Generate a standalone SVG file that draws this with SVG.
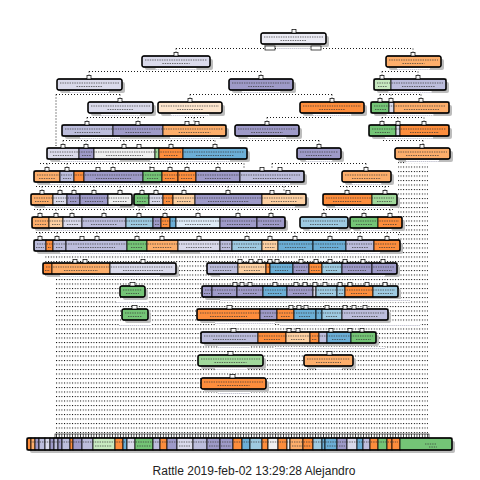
<svg xmlns="http://www.w3.org/2000/svg" width="480" height="480" viewBox="0 0 480 480">
<defs>
<pattern id="dots" width="2.67" height="4.5" patternUnits="userSpaceOnUse"><rect x="0" y="0" width="1" height="1" fill="#000"/></pattern>
<pattern id="tk" width="2.67" height="4" patternUnits="userSpaceOnUse"><rect x="0" y="0" width="0.7" height="4" fill="#000"/></pattern>
</defs>
<style>
.c1{fill:#fd8d3c}.c2{fill:#fdae6b}.c3{fill:#fdd0a2}.c4{fill:#fee6ce}
.c5{fill:#9e9ac8}.c6{fill:#bcbddc}.c7{fill:#dadaeb}.c8{fill:#ececf5}
.c9{fill:#6baed6}.c10{fill:#9ecae1}.c11{fill:#deebf7}
.c12{fill:#74c476}.c13{fill:#a1d99b}.c14{fill:#c7e9c0}.c15{fill:#f0f0f0}
rect.s{stroke:#000;stroke-width:.8}
.o{fill:none;stroke:#000;stroke-width:1.3}
.sh{fill:#bdbdbd}
.tx{fill:none;stroke:#333;stroke-width:.7;stroke-dasharray:1.4 1}
.t{fill:#fff;stroke:#000;stroke-width:.7}
.lb{fill:#fff}
.ll{fill:none;stroke:#b8b8c8;stroke-width:.8;stroke-dasharray:1.5 .6}
.d{fill:none;stroke:#000;stroke-width:.9;stroke-dasharray:1 2}
.cap{font-family:"Liberation Sans",Arial,sans-serif;font-size:12px;fill:#222}
</style>
<rect x="0" y="0" width="480" height="480" fill="#fff"/>
<g id="field">
<polygon points="398,160 428,160 428,435 55,435 55,278 45,278 45,253 398,253" fill="url(#dots)"/>
<rect x="55" y="434" width="374" height="4" fill="#fff" stroke="#000" stroke-width="0.6"/>
<rect x="55" y="434" width="374" height="4" fill="url(#tk)"/>
</g>
<g id="connectors">
<path class="d" d="M176,48.5H413M176,48.5V53M413,48.5V53"/>
<path class="d" d="M89,71.5H261M89,71.5V76M261,71.5V76M382,71.5H418M382,71.5V76M418,71.5V76"/>
<path class="d" d="M56,94.5H120M120,94.5V99M56,94.5V145M190,94.5H332M190,94.5V99M332,94.5V99M380,94.5H421M380,94.5V99M391,94.5V99M421,94.5V99"/>
<path class="d" d="M87,117.5H146M87,117.5V122M138,117.5V122M185,117.5H205M194,117.5V122M267,117.5H332M267,117.5V122M382,117.5H424M382,117.5V122M398,117.5V122M424,117.5V122"/>
<path class="d" d="M63,140.5H215M63,140.5V145M86,140.5V145M124,140.5V145M171,140.5V145M215,140.5V145M240,140.5H319M319,140.5V145M383,140.5H423M423,140.5V145"/>
<path class="d" d="M40,163.5H244M47,163.5V168M67,163.5V168M113,163.5V168M150,163.5V168M170,163.5V168M187,163.5V168M218,163.5V168M244,163.5V168M272,163.5H366M272,163.5V168M366,163.5V168"/>
<path class="d" d="M36,186.5H300M42,186.5V191M60,186.5V191M74,186.5V191M94,186.5V191M120,186.5V191M142,186.5V191M156,186.5V191M184,186.5V191M228,186.5V191M284,186.5V191M340,186.5H390M347,186.5V191M385,186.5V191"/>
<path class="d" d="M34,209.5H300M40,209.5V214M56,209.5V214M72,209.5V214M104,209.5V214M139,209.5V214M165,209.5V214M198,209.5V214M238,209.5V214M271,209.5V214M323,209.5H395M324,209.5V214M364,209.5V214M390,209.5V214"/>
<path class="d" d="M36,232.5H400M40,232.5V237M57,232.5V237M97,232.5V237M137,232.5V237M162,232.5V237M199,232.5V237M247,232.5V237M270,232.5V237M295,232.5V237M330,232.5V237M360,232.5V237M387,232.5V237"/>
<path class="d" d="M56,145V148"/>
</g>
<g id="n1">
<rect class="sh" x="264" y="36" width="65" height="11" rx="2"/>
<rect class="c8 s" x="261" y="33" width="65" height="11" rx="2"/>
<rect class="o" x="261" y="33" width="65" height="11" rx="2"/>
<path class="tx" d="M264,37H323M280.5,40.5H306.5"/>
<rect class="t" x="292" y="29.5" width="4" height="3.5"/>
<rect class="t" x="265" y="46" width="10" height="4"/>
<rect class="t" x="311" y="46" width="10" height="4"/>
<rect class="lb" x="277" y="47" width="33" height="3"/>
<path class="ll" d="M277,48.5H310"/>
</g>
<g id="n2">
<rect class="sh" x="145" y="59" width="68" height="11" rx="2"/>
<rect class="c7 s" x="142" y="56" width="68" height="11" rx="2"/>
<rect class="o" x="142" y="56" width="68" height="11" rx="2"/>
<path class="tx" d="M145,60H207M162.4,63.5H189.6"/>
<rect class="t" x="174" y="52.5" width="4" height="3.5"/>
<rect class="lb" x="155.6" y="68" width="40.8" height="3"/><path class="ll" d="M155.6,69.5H196.4"/>
</g>
<g id="n3">
<rect class="sh" x="389" y="59" width="55" height="11" rx="2"/>
<rect class="c2 s" x="386" y="56" width="55" height="11" rx="2"/>
<rect class="o" x="386" y="56" width="55" height="11" rx="2"/>
<path class="tx" d="M389,60H438M402.5,63.5H424.5"/>
<rect class="t" x="411" y="52.5" width="4" height="3.5"/>
<rect class="lb" x="397" y="68" width="33" height="3"/><path class="ll" d="M397,69.5H430"/>
</g>
<g id="n4">
<rect class="sh" x="60" y="82" width="65" height="11" rx="2"/>
<rect class="c7 s" x="57" y="79" width="65" height="11" rx="2"/>
<rect class="o" x="57" y="79" width="65" height="11" rx="2"/>
<path class="tx" d="M60,83H119M76.5,86.5H102.5"/>
<rect class="t" x="87" y="75.5" width="4" height="3.5"/>
<rect class="lb" x="70" y="91" width="39" height="3"/><path class="ll" d="M70,92.5H109"/>
</g>
<g id="n5">
<rect class="sh" x="232" y="82" width="64" height="11" rx="2"/>
<rect class="c5 s" x="229" y="79" width="64" height="11" rx="2"/>
<rect class="o" x="229" y="79" width="64" height="11" rx="2"/>
<path class="tx" d="M232,83H290M248.2,86.5H273.8"/>
<rect class="t" x="259" y="75.5" width="4" height="3.5"/>
<rect class="lb" x="241.8" y="91" width="38.4" height="3"/><path class="ll" d="M241.8,92.5H280.2"/>
</g>
<g id="n6">
<rect class="sh" x="377" y="82" width="72" height="11" rx="2"/>
<rect class="c14 s" x="374" y="79" width="17" height="11"/>
<rect class="c6 s" x="391" y="79" width="55" height="11"/>
<rect class="o" x="374" y="79" width="72" height="11" rx="2"/>
<path class="tx" d="M377,83H443M378,86.5H387M402,86.5H435"/>
<rect class="t" x="380" y="75.5" width="4" height="3.5"/><rect class="t" x="416" y="75.5" width="4" height="3.5"/>
<rect class="lb" x="388.4" y="91" width="43.2" height="3"/><path class="ll" d="M388.4,92.5H431.6"/>
</g>
<g id="n7">
<rect class="sh" x="91" y="105" width="65" height="11" rx="2"/>
<rect class="c7 s" x="88" y="102" width="65" height="11" rx="2"/>
<rect class="o" x="88" y="102" width="65" height="11" rx="2"/>
<path class="tx" d="M91,106H150M107.5,109.5H133.5"/>
<rect class="t" x="118" y="98.5" width="4" height="3.5"/>
<rect class="lb" x="101" y="114" width="39" height="3"/><path class="ll" d="M101,115.5H140"/>
</g>
<g id="n8">
<rect class="sh" x="161" y="105" width="64" height="11" rx="2"/>
<rect class="c4 s" x="158" y="102" width="64" height="11" rx="2"/>
<rect class="o" x="158" y="102" width="64" height="11" rx="2"/>
<path class="tx" d="M161,106H219M177.2,109.5H202.8"/>
<rect class="t" x="188" y="98.5" width="4" height="3.5"/>
<rect class="lb" x="170.8" y="114" width="38.4" height="3"/><path class="ll" d="M170.8,115.5H209.2"/>
</g>
<g id="n9">
<rect class="sh" x="303" y="105" width="64" height="11" rx="2"/>
<rect class="c1 s" x="300" y="102" width="64" height="11" rx="2"/>
<rect class="o" x="300" y="102" width="64" height="11" rx="2"/>
<path class="tx" d="M303,106H361M319.2,109.5H344.8"/>
<rect class="t" x="330" y="98.5" width="4" height="3.5"/>
<rect class="lb" x="312.8" y="114" width="38.4" height="3"/><path class="ll" d="M312.8,115.5H351.2"/>
</g>
<g id="n10">
<rect class="sh" x="374" y="105" width="78" height="11" rx="2"/>
<rect class="c12 s" x="371" y="102" width="18" height="11"/>
<rect class="c7 s" x="389" y="102" width="5" height="11"/>
<rect class="c2 s" x="394" y="102" width="55" height="11"/>
<rect class="o" x="371" y="102" width="78" height="11" rx="2"/>
<path class="tx" d="M374,106H446M375,109.5H386M404,109.5H439"/>
<rect class="t" x="378" y="98.5" width="4" height="3.5"/><rect class="t" x="389" y="98.5" width="4" height="3.5"/><rect class="t" x="419" y="98.5" width="4" height="3.5"/>
<rect class="lb" x="386.6" y="114" width="46.8" height="3"/><path class="ll" d="M386.6,115.5H433.4"/>
</g>
<g id="n11">
<rect class="sh" x="65" y="128" width="164" height="11" rx="2"/>
<rect class="c6 s" x="62" y="125" width="51" height="11"/>
<rect class="c5 s" x="113" y="125" width="50" height="11"/>
<rect class="c2 s" x="163" y="125" width="63" height="11"/>
<rect class="o" x="62" y="125" width="164" height="11" rx="2"/>
<path class="tx" d="M65,129H223M74.7,132.5H100.3M125.5,132.5H150.5M178.7,132.5H210.3"/>
<rect class="t" x="85" y="121.5" width="4" height="3.5"/><rect class="t" x="136" y="121.5" width="4" height="3.5"/><rect class="t" x="185" y="121.5" width="4" height="3.5"/><rect class="t" x="195" y="121.5" width="4" height="3.5"/>
<rect class="lb" x="80" y="137" width="40" height="3"/><path class="ll" d="M80,138.5H120"/>
<rect class="lb" x="170" y="137" width="50" height="3"/><path class="ll" d="M170,138.5H220"/>
</g>
<g id="n12">
<rect class="sh" x="238" y="128" width="64" height="11" rx="2"/>
<rect class="c5 s" x="235" y="125" width="64" height="11" rx="2"/>
<rect class="o" x="235" y="125" width="64" height="11" rx="2"/>
<path class="tx" d="M238,129H296M251.2,132.5H282.8"/>
<rect class="t" x="265" y="121.5" width="4" height="3.5"/>
<rect class="lb" x="247.8" y="137" width="38.4" height="3"/><path class="ll" d="M247.8,138.5H286.2"/>
</g>
<g id="n13">
<rect class="sh" x="372" y="128" width="80" height="11" rx="2"/>
<rect class="c12 s" x="369" y="125" width="27" height="11"/>
<rect class="c7 s" x="396" y="125" width="4" height="11"/>
<rect class="c1 s" x="400" y="125" width="49" height="11"/>
<rect class="o" x="369" y="125" width="80" height="11" rx="2"/>
<path class="tx" d="M372,129H446M375,132.5H390M410,132.5H439"/>
<rect class="t" x="380" y="121.5" width="4" height="3.5"/><rect class="t" x="396" y="121.5" width="4" height="3.5"/><rect class="t" x="422" y="121.5" width="4" height="3.5"/>
<rect class="lb" x="385" y="137" width="48" height="3"/><path class="ll" d="M385,138.5H433"/>
</g>
<g id="n14">
<rect class="sh" x="50" y="151" width="200" height="11" rx="2"/>
<rect class="c7 s" x="47" y="148" width="32" height="11"/>
<rect class="c5 s" x="79" y="148" width="15" height="11"/>
<rect class="c15 s" x="94" y="148" width="61" height="11"/>
<rect class="c13 s" x="155" y="148" width="4" height="11"/>
<rect class="c1 s" x="159" y="148" width="24" height="11"/>
<rect class="c9 s" x="183" y="148" width="64" height="11"/>
<rect class="o" x="47" y="148" width="200" height="11" rx="2"/>
<path class="tx" d="M50,152H244M53,155.5H73M82,155.5H91M106,155.5H143M164,155.5H178M196,155.5H234"/>
<rect class="t" x="61" y="144.5" width="4" height="3.5"/><rect class="t" x="84" y="144.5" width="4" height="3.5"/><rect class="t" x="122" y="144.5" width="4" height="3.5"/><rect class="t" x="137" y="144.5" width="4" height="3.5"/><rect class="t" x="169" y="144.5" width="4" height="3.5"/><rect class="t" x="213" y="144.5" width="4" height="3.5"/>
<rect class="lb" x="60" y="160" width="60" height="3"/><path class="ll" d="M60,161.5H120"/>
<rect class="lb" x="150" y="160" width="80" height="3"/><path class="ll" d="M150,161.5H230"/>
</g>
<g id="n15">
<rect class="sh" x="300" y="151" width="44" height="11" rx="2"/>
<rect class="c5 s" x="297" y="148" width="44" height="11" rx="2"/>
<rect class="o" x="297" y="148" width="44" height="11" rx="2"/>
<path class="tx" d="M300,152H338M306,155.5H332"/>
<rect class="t" x="317" y="144.5" width="4" height="3.5"/>
<rect class="lb" x="305.8" y="160" width="26.4" height="3"/><path class="ll" d="M305.8,161.5H332.2"/>
</g>
<g id="n16">
<rect class="sh" x="398" y="151" width="55" height="11" rx="2"/>
<rect class="c2 s" x="395" y="148" width="55" height="11" rx="2"/>
<rect class="o" x="395" y="148" width="55" height="11" rx="2"/>
<path class="tx" d="M398,152H447M406,155.5H439"/>
<rect class="t" x="420" y="144.5" width="4" height="3.5"/>
<rect class="lb" x="406" y="160" width="33" height="3"/><path class="ll" d="M406,161.5H439"/>
</g>
<g id="n17">
<rect class="sh" x="37" y="174" width="270" height="11" rx="2"/>
<rect class="c2 s" x="34" y="171" width="26" height="11"/>
<rect class="c6 s" x="60" y="171" width="14" height="11"/>
<rect class="c1 s" x="74" y="171" width="10" height="11"/>
<rect class="c5 s" x="84" y="171" width="59" height="11"/>
<rect class="c12 s" x="143" y="171" width="19" height="11"/>
<rect class="c1 s" x="162" y="171" width="16" height="11"/>
<rect class="c1 s" x="178" y="171" width="18" height="11"/>
<rect class="c5 s" x="196" y="171" width="44" height="11"/>
<rect class="c6 s" x="240" y="171" width="64" height="11"/>
<rect class="o" x="34" y="171" width="270" height="11" rx="2"/>
<path class="tx" d="M37,175H301M39,178.5H55M63,178.5H71M96,178.5H131M147,178.5H158M165,178.5H175M181,178.5H193M205,178.5H231M253,178.5H291"/>
<rect class="t" x="45" y="167.5" width="4" height="3.5"/><rect class="t" x="65" y="167.5" width="4" height="3.5"/><rect class="t" x="96" y="167.5" width="4" height="3.5"/><rect class="t" x="111" y="167.5" width="4" height="3.5"/><rect class="t" x="150" y="167.5" width="4" height="3.5"/><rect class="t" x="168" y="167.5" width="4" height="3.5"/><rect class="t" x="185" y="167.5" width="4" height="3.5"/><rect class="t" x="216" y="167.5" width="4" height="3.5"/><rect class="t" x="260" y="167.5" width="4" height="3.5"/><rect class="t" x="278" y="167.5" width="4" height="3.5"/>
<rect class="lb" x="50" y="183" width="90" height="3"/><path class="ll" d="M50,184.5H140"/>
<rect class="lb" x="160" y="183" width="130" height="3"/><path class="ll" d="M160,184.5H290"/>
</g>
<g id="n18">
<rect class="sh" x="345" y="174" width="49" height="11" rx="2"/>
<rect class="c2 s" x="342" y="171" width="49" height="11" rx="2"/>
<rect class="o" x="342" y="171" width="49" height="11" rx="2"/>
<path class="tx" d="M345,175H388M352,178.5H381"/>
<rect class="t" x="364" y="167.5" width="4" height="3.5"/>
<rect class="lb" x="351.8" y="183" width="29.4" height="3"/><path class="ll" d="M351.8,184.5H381.2"/>
</g>
<g id="n19">
<rect class="sh" x="34" y="197" width="101" height="11" rx="2"/>
<rect class="c2 s" x="31" y="194" width="22" height="11"/>
<rect class="c7 s" x="53" y="194" width="14" height="11"/>
<rect class="c5 s" x="67" y="194" width="13" height="11"/>
<rect class="c5 s" x="80" y="194" width="28" height="11"/>
<rect class="c15 s" x="108" y="194" width="24" height="11"/>
<rect class="o" x="31" y="194" width="101" height="11" rx="2"/>
<path class="tx" d="M34,198H129M35,201.5H49M56,201.5H64M70,201.5H77M85,201.5H103M113,201.5H127"/>
<rect class="t" x="40" y="190.5" width="4" height="3.5"/><rect class="t" x="58" y="190.5" width="4" height="3.5"/><rect class="t" x="72" y="190.5" width="4" height="3.5"/><rect class="t" x="92" y="190.5" width="4" height="3.5"/><rect class="t" x="118" y="190.5" width="4" height="3.5"/>
<rect class="lb" x="45" y="206" width="75" height="3"/><path class="ll" d="M45,207.5H120"/>
</g>
<g id="n20">
<rect class="sh" x="137" y="197" width="172" height="11" rx="2"/>
<rect class="c12 s" x="134" y="194" width="15" height="11"/>
<rect class="c7 s" x="149" y="194" width="14" height="11"/>
<rect class="c1 s" x="163" y="194" width="10" height="11"/>
<rect class="c3 s" x="173" y="194" width="22" height="11"/>
<rect class="c5 s" x="195" y="194" width="67" height="11"/>
<rect class="c3 s" x="262" y="194" width="44" height="11"/>
<rect class="o" x="134" y="194" width="172" height="11" rx="2"/>
<path class="tx" d="M137,198H303M137,201.5H146M152,201.5H160M166,201.5H170M177,201.5H191M208,201.5H249M271,201.5H297"/>
<rect class="t" x="140" y="190.5" width="4" height="3.5"/><rect class="t" x="154" y="190.5" width="4" height="3.5"/><rect class="t" x="182" y="190.5" width="4" height="3.5"/><rect class="t" x="226" y="190.5" width="4" height="3.5"/><rect class="t" x="270" y="190.5" width="4" height="3.5"/><rect class="t" x="286" y="190.5" width="4" height="3.5"/>
<rect class="lb" x="145" y="206" width="150" height="3"/><path class="ll" d="M145,207.5H295"/>
</g>
<g id="n21">
<rect class="sh" x="326" y="197" width="74" height="11" rx="2"/>
<rect class="c1 s" x="323" y="194" width="49" height="11"/>
<rect class="c13 s" x="372" y="194" width="25" height="11"/>
<rect class="o" x="323" y="194" width="74" height="11" rx="2"/>
<path class="tx" d="M326,198H394M333,201.5H362M377,201.5H392"/>
<rect class="t" x="345" y="190.5" width="4" height="3.5"/><rect class="t" x="383" y="190.5" width="4" height="3.5"/>
<rect class="lb" x="335" y="206" width="55" height="3"/><path class="ll" d="M335,207.5H390"/>
</g>
<g id="n22">
<rect class="sh" x="35" y="220" width="253" height="11" rx="2"/>
<rect class="c2 s" x="32" y="217" width="17" height="11"/>
<rect class="c3 s" x="49" y="217" width="14" height="11"/>
<rect class="c7 s" x="63" y="217" width="19" height="11"/>
<rect class="c6 s" x="82" y="217" width="44" height="11"/>
<rect class="c10 s" x="126" y="217" width="27" height="11"/>
<rect class="c5 s" x="153" y="217" width="8" height="11"/>
<rect class="c1 s" x="161" y="217" width="9" height="11"/>
<rect class="c9 s" x="170" y="217" width="6" height="11"/>
<rect class="c11 s" x="176" y="217" width="44" height="11"/>
<rect class="c5 s" x="220" y="217" width="37" height="11"/>
<rect class="c5 s" x="257" y="217" width="28" height="11"/>
<rect class="o" x="32" y="217" width="253" height="11" rx="2"/>
<path class="tx" d="M35,221H282M35,224.5H46M52,224.5H60M67,224.5H78M91,224.5H117M131,224.5H148M155,224.5H159M163,224.5H168M185,224.5H211M227,224.5H250M263,224.5H279"/>
<rect class="t" x="38" y="213.5" width="4" height="3.5"/><rect class="t" x="54" y="213.5" width="4" height="3.5"/><rect class="t" x="70" y="213.5" width="4" height="3.5"/><rect class="t" x="102" y="213.5" width="4" height="3.5"/><rect class="t" x="137" y="213.5" width="4" height="3.5"/><rect class="t" x="163" y="213.5" width="4" height="3.5"/><rect class="t" x="196" y="213.5" width="4" height="3.5"/><rect class="t" x="236" y="213.5" width="4" height="3.5"/><rect class="t" x="269" y="213.5" width="4" height="3.5"/>
<rect class="lb" x="50" y="229" width="100" height="3"/><path class="ll" d="M50,230.5H150"/>
<rect class="lb" x="170" y="229" width="100" height="3"/><path class="ll" d="M170,230.5H270"/>
</g>
<g id="n23">
<rect class="sh" x="303" y="220" width="48" height="11" rx="2"/>
<rect class="c10 s" x="300" y="217" width="48" height="11" rx="2"/>
<rect class="o" x="300" y="217" width="48" height="11" rx="2"/>
<path class="tx" d="M303,221H345M310,224.5H338"/>
<rect class="t" x="322" y="213.5" width="4" height="3.5"/>
<rect class="lb" x="309.6" y="229" width="28.8" height="3"/><path class="ll" d="M309.6,230.5H338.4"/>
</g>
<g id="n24">
<rect class="sh" x="353" y="220" width="52" height="11" rx="2"/>
<rect class="c12 s" x="350" y="217" width="28" height="11"/>
<rect class="c1 s" x="378" y="217" width="24" height="11"/>
<rect class="o" x="350" y="217" width="52" height="11" rx="2"/>
<path class="tx" d="M353,221H399M356,224.5H372M383,224.5H397"/>
<rect class="t" x="362" y="213.5" width="4" height="3.5"/><rect class="t" x="388" y="213.5" width="4" height="3.5"/>
<rect class="lb" x="360.4" y="229" width="31.2" height="3"/><path class="ll" d="M360.4,230.5H391.6"/>
</g>
<g id="n25">
<rect class="sh" x="37" y="243" width="366" height="11" rx="2"/>
<rect class="c6 s" x="34" y="240" width="12" height="11"/>
<rect class="c1 s" x="46" y="240" width="7" height="11"/>
<rect class="c6 s" x="53" y="240" width="13" height="11"/>
<rect class="c6 s" x="66" y="240" width="61" height="11"/>
<rect class="c12 s" x="127" y="240" width="20" height="11"/>
<rect class="c2 s" x="147" y="240" width="31" height="11"/>
<rect class="c7 s" x="178" y="240" width="42" height="11"/>
<rect class="c6 s" x="220" y="240" width="12" height="11"/>
<rect class="c10 s" x="232" y="240" width="30" height="11"/>
<rect class="c3 s" x="262" y="240" width="16" height="11"/>
<rect class="c9 s" x="278" y="240" width="35" height="11"/>
<rect class="c9 s" x="313" y="240" width="33" height="11"/>
<rect class="c6 s" x="346" y="240" width="28" height="11"/>
<rect class="c1 s" x="374" y="240" width="26" height="11"/>
<rect class="o" x="34" y="240" width="366" height="11" rx="2"/>
<path class="tx" d="M37,244H397M36,247.5H44M48,247.5H51M56,247.5H63M78,247.5H115M131,247.5H143M153,247.5H172M186,247.5H212M222,247.5H230M238,247.5H256M265,247.5H275M285,247.5H306M320,247.5H339M352,247.5H368M379,247.5H395"/>
<rect class="t" x="38" y="236.5" width="4" height="3.5"/><rect class="t" x="55" y="236.5" width="4" height="3.5"/><rect class="t" x="80" y="236.5" width="4" height="3.5"/><rect class="t" x="95" y="236.5" width="4" height="3.5"/><rect class="t" x="135" y="236.5" width="4" height="3.5"/><rect class="t" x="160" y="236.5" width="4" height="3.5"/><rect class="t" x="197" y="236.5" width="4" height="3.5"/><rect class="t" x="245" y="236.5" width="4" height="3.5"/><rect class="t" x="268" y="236.5" width="4" height="3.5"/><rect class="t" x="293" y="236.5" width="4" height="3.5"/><rect class="t" x="328" y="236.5" width="4" height="3.5"/><rect class="t" x="358" y="236.5" width="4" height="3.5"/><rect class="t" x="385" y="236.5" width="4" height="3.5"/>
<rect class="lb" x="60" y="252" width="110" height="3"/><path class="ll" d="M60,253.5H170"/>
<rect class="lb" x="200" y="252" width="180" height="3"/><path class="ll" d="M200,253.5H380"/>
</g>
<g id="n26">
<rect class="sh" x="46" y="266" width="133" height="11" rx="2"/>
<rect class="c1 s" x="43" y="263" width="9" height="11"/>
<rect class="c2 s" x="52" y="263" width="58" height="11"/>
<rect class="c7 s" x="110" y="263" width="66" height="11"/>
<rect class="o" x="43" y="263" width="133" height="11" rx="2"/>
<path class="tx" d="M46,267H173M45,270.5H50M64,270.5H98M123,270.5H163"/>
<rect class="t" x="73" y="259.5" width="4" height="3.5"/><rect class="t" x="83" y="259.5" width="4" height="3.5"/><rect class="t" x="141" y="259.5" width="4" height="3.5"/>
<rect class="lb" x="60" y="275" width="100" height="3"/><path class="ll" d="M60,276.5H160"/>
</g>
<g id="n27">
<rect class="sh" x="210" y="266" width="190" height="11" rx="2"/>
<rect class="c6 s" x="207" y="263" width="31" height="11"/>
<rect class="c3 s" x="238" y="263" width="28" height="11"/>
<rect class="c1 s" x="266" y="263" width="4" height="11"/>
<rect class="c9 s" x="270" y="263" width="23" height="11"/>
<rect class="c5 s" x="293" y="263" width="16" height="11"/>
<rect class="c1 s" x="309" y="263" width="13" height="11"/>
<rect class="c10 s" x="322" y="263" width="20" height="11"/>
<rect class="c5 s" x="342" y="263" width="30" height="11"/>
<rect class="c5 s" x="372" y="263" width="25" height="11"/>
<rect class="o" x="207" y="263" width="190" height="11" rx="2"/>
<path class="tx" d="M210,267H394M213,270.5H232M244,270.5H260M275,270.5H288M296,270.5H306M311,270.5H320M326,270.5H338M348,270.5H366M377,270.5H392"/>
<rect class="t" x="238" y="259.5" width="4" height="3.5"/><rect class="t" x="249" y="259.5" width="4" height="3.5"/><rect class="t" x="258" y="259.5" width="4" height="3.5"/><rect class="t" x="268" y="259.5" width="4" height="3.5"/><rect class="t" x="275" y="259.5" width="4" height="3.5"/><rect class="t" x="299" y="259.5" width="4" height="3.5"/><rect class="t" x="314" y="259.5" width="4" height="3.5"/><rect class="t" x="328" y="259.5" width="4" height="3.5"/><rect class="t" x="343" y="259.5" width="4" height="3.5"/><rect class="t" x="361" y="259.5" width="4" height="3.5"/><rect class="t" x="381" y="259.5" width="4" height="3.5"/>
<rect class="lb" x="220" y="275" width="165" height="3"/><path class="ll" d="M220,276.5H385"/>
</g>
<g id="n28">
<rect class="sh" x="123" y="289" width="25" height="11" rx="2"/>
<rect class="c12 s" x="120" y="286" width="25" height="11" rx="2"/>
<rect class="o" x="120" y="286" width="25" height="11" rx="2"/>
<path class="tx" d="M123,290H142M126,293.5H139"/>
<rect class="t" x="130" y="282.5" width="5" height="3.5"/>
<rect class="lb" x="116" y="301" width="32" height="3"/><path class="ll" d="M116,302.5H148"/>
</g>
<g id="n29">
<rect class="sh" x="205" y="289" width="196" height="11" rx="2"/>
<rect class="c5 s" x="202" y="286" width="10" height="11"/>
<rect class="c5 s" x="212" y="286" width="25" height="11"/>
<rect class="c5 s" x="237" y="286" width="26" height="11"/>
<rect class="c9 s" x="263" y="286" width="24" height="11"/>
<rect class="c5 s" x="287" y="286" width="26" height="11"/>
<rect class="c7 s" x="313" y="286" width="3" height="11"/>
<rect class="c10 s" x="316" y="286" width="21" height="11"/>
<rect class="c10 s" x="337" y="286" width="8" height="11"/>
<rect class="c1 s" x="345" y="286" width="28" height="11"/>
<rect class="c10 s" x="373" y="286" width="25" height="11"/>
<rect class="o" x="202" y="286" width="196" height="11" rx="2"/>
<path class="tx" d="M205,290H395M204,293.5H210M218,293.5H231M243,293.5H257M268,293.5H282M293,293.5H307M320,293.5H333M339,293.5H343M351,293.5H367M378,293.5H393"/>
<rect class="t" x="233" y="282.5" width="4" height="3.5"/><rect class="t" x="240" y="282.5" width="4" height="3.5"/><rect class="t" x="248" y="282.5" width="4" height="3.5"/><rect class="t" x="273" y="282.5" width="4" height="3.5"/><rect class="t" x="294" y="282.5" width="4" height="3.5"/><rect class="t" x="303" y="282.5" width="4" height="3.5"/><rect class="t" x="313" y="282.5" width="4" height="3.5"/><rect class="t" x="323" y="282.5" width="4" height="3.5"/><rect class="t" x="338" y="282.5" width="4" height="3.5"/><rect class="t" x="348" y="282.5" width="4" height="3.5"/><rect class="t" x="365" y="282.5" width="4" height="3.5"/><rect class="t" x="383" y="282.5" width="4" height="3.5"/>
<rect class="lb" x="220" y="299" width="190" height="3"/><path class="ll" d="M220,300.5H410"/>
</g>
<g id="n30">
<rect class="sh" x="125" y="312" width="26" height="11" rx="2"/>
<rect class="c12 s" x="122" y="309" width="26" height="11" rx="2"/>
<rect class="o" x="122" y="309" width="26" height="11" rx="2"/>
<path class="tx" d="M125,313H145M128,316.5H142"/>
<rect class="t" x="132" y="305.5" width="5" height="3.5"/>
<rect class="lb" x="119" y="324" width="32" height="3"/><path class="ll" d="M119,325.5H151"/>
</g>
<g id="n31">
<rect class="sh" x="200" y="312" width="191" height="11" rx="2"/>
<rect class="c1 s" x="197" y="309" width="63" height="11"/>
<rect class="c5 s" x="260" y="309" width="17" height="11"/>
<rect class="c1 s" x="277" y="309" width="17" height="11"/>
<rect class="c9 s" x="294" y="309" width="22" height="11"/>
<rect class="c9 s" x="316" y="309" width="6" height="11"/>
<rect class="c10 s" x="322" y="309" width="20" height="11"/>
<rect class="c6 s" x="342" y="309" width="46" height="11"/>
<rect class="o" x="197" y="309" width="191" height="11" rx="2"/>
<path class="tx" d="M200,313H385M210,316.5H247M264,316.5H273M281,316.5H290M299,316.5H311M326,316.5H338M352,316.5H378"/>
<rect class="t" x="227" y="305.5" width="5" height="3.5"/><rect class="t" x="289" y="305.5" width="4" height="3.5"/><rect class="t" x="297" y="305.5" width="4" height="3.5"/><rect class="t" x="304" y="305.5" width="4" height="3.5"/><rect class="t" x="325" y="305.5" width="4" height="3.5"/><rect class="t" x="343" y="305.5" width="4" height="3.5"/><rect class="t" x="352" y="305.5" width="4" height="3.5"/><rect class="t" x="363" y="305.5" width="4" height="3.5"/>
<rect class="lb" x="215" y="322" width="60" height="3"/><path class="ll" d="M215,323.5H275"/>
<rect class="lb" x="280" y="324" width="140" height="3"/><path class="ll" d="M280,325.5H420"/>
</g>
<g id="n32">
<rect class="sh" x="204" y="335" width="175" height="11" rx="2"/>
<rect class="c6 s" x="201" y="332" width="57" height="11"/>
<rect class="c1 s" x="258" y="332" width="28" height="11"/>
<rect class="c3 s" x="286" y="332" width="24" height="11"/>
<rect class="c1 s" x="310" y="332" width="9" height="11"/>
<rect class="c6 s" x="319" y="332" width="8" height="11"/>
<rect class="c9 s" x="327" y="332" width="24" height="11"/>
<rect class="c12 s" x="351" y="332" width="25" height="11"/>
<rect class="o" x="201" y="332" width="175" height="11" rx="2"/>
<path class="tx" d="M204,336H373M213,339.5H246M264,339.5H280M291,339.5H305M312,339.5H317M332,339.5H346M356,339.5H371"/>
<rect class="t" x="231" y="328.5" width="5" height="3.5"/><rect class="t" x="287" y="328.5" width="4" height="3.5"/><rect class="t" x="296" y="328.5" width="4" height="3.5"/><rect class="t" x="329" y="328.5" width="4" height="3.5"/><rect class="t" x="348" y="328.5" width="4" height="3.5"/><rect class="t" x="360" y="328.5" width="4" height="3.5"/>
<rect class="lb" x="218" y="346" width="32" height="3"/><path class="ll" d="M218,347.5H250"/>
<rect class="lb" x="275" y="347" width="110" height="3"/><path class="ll" d="M275,348.5H385"/>
</g>
<g id="n33">
<rect class="sh" x="201" y="358" width="65" height="11" rx="2"/>
<rect class="c13 s" x="198" y="355" width="65" height="11" rx="2"/>
<rect class="o" x="198" y="355" width="65" height="11" rx="2"/>
<path class="tx" d="M201,359H260M214.5,362.5H246.5"/>
<rect class="t" x="228" y="351.5" width="5" height="3.5"/>
<rect class="lb" x="215" y="368" width="32" height="3"/><path class="ll" d="M215,369.5H247"/>
</g>
<g id="n34">
<rect class="sh" x="307" y="358" width="49" height="11" rx="2"/>
<rect class="c2 s" x="304" y="355" width="49" height="11" rx="2"/>
<rect class="o" x="304" y="355" width="49" height="11" rx="2"/>
<path class="tx" d="M307,359H350M316,362.5H341"/>
<rect class="t" x="327" y="351.5" width="5" height="3.5"/>
<rect class="lb" x="316" y="368" width="26" height="3"/><path class="ll" d="M316,369.5H342"/>
</g>
<g id="n35">
<rect class="sh" x="204" y="381" width="65" height="11" rx="2"/>
<rect class="c1 s" x="201" y="378" width="65" height="11" rx="2"/>
<rect class="o" x="201" y="378" width="65" height="11" rx="2"/>
<path class="tx" d="M204,382H263M217.5,385.5H249.5"/>
<rect class="t" x="230" y="374.5" width="5" height="3.5"/>
<rect class="lb" x="218" y="392" width="32" height="3"/><path class="ll" d="M218,393.5H250"/>
</g>
<g id="leaves">
<rect class="sh" x="30" y="441" width="425" height="12" rx="2"/>
<rect class="c1 s" x="27" y="438" width="4" height="12"/>
<rect class="c2 s" x="31" y="438" width="4" height="12"/>
<rect class="c5 s" x="35" y="438" width="4" height="12"/>
<rect class="c6 s" x="39" y="438" width="6" height="12"/>
<rect class="c7 s" x="45" y="438" width="5" height="12"/>
<rect class="c5 s" x="50" y="438" width="4" height="12"/>
<rect class="c6 s" x="54" y="438" width="4" height="12"/>
<rect class="c5 s" x="58" y="438" width="4" height="12"/>
<rect class="c6 s" x="62" y="438" width="8" height="12"/>
<rect class="c1 s" x="70" y="438" width="3" height="12"/>
<rect class="c5 s" x="73" y="438" width="9" height="12"/>
<rect class="c6 s" x="82" y="438" width="11" height="12"/>
<rect class="c14 s" x="93" y="438" width="22" height="12"/>
<rect class="c1 s" x="115" y="438" width="8" height="12"/>
<rect class="c9 s" x="123" y="438" width="4" height="12"/>
<rect class="c7 s" x="127" y="438" width="8" height="12"/>
<rect class="c12 s" x="135" y="438" width="18" height="12"/>
<rect class="c6 s" x="153" y="438" width="7" height="12"/>
<rect class="c1 s" x="160" y="438" width="7" height="12"/>
<rect class="c5 s" x="167" y="438" width="10" height="12"/>
<rect class="c7 s" x="177" y="438" width="16" height="12"/>
<rect class="c6 s" x="193" y="438" width="14" height="12"/>
<rect class="c5 s" x="207" y="438" width="13" height="12"/>
<rect class="c5 s" x="220" y="438" width="13" height="12"/>
<rect class="c1 s" x="233" y="438" width="9" height="12"/>
<rect class="c9 s" x="242" y="438" width="8" height="12"/>
<rect class="c10 s" x="250" y="438" width="12" height="12"/>
<rect class="c1 s" x="262" y="438" width="6" height="12"/>
<rect class="c15 s" x="268" y="438" width="10" height="12"/>
<rect class="c1 s" x="278" y="438" width="9" height="12"/>
<rect class="c15 s" x="287" y="438" width="3" height="12"/>
<rect class="c2 s" x="290" y="438" width="13" height="12"/>
<rect class="c1 s" x="303" y="438" width="10" height="12"/>
<rect class="c10 s" x="313" y="438" width="9" height="12"/>
<rect class="c9 s" x="322" y="438" width="3" height="12"/>
<rect class="c9 s" x="325" y="438" width="12" height="12"/>
<rect class="c5 s" x="337" y="438" width="10" height="12"/>
<rect class="c7 s" x="347" y="438" width="10" height="12"/>
<rect class="c9 s" x="357" y="438" width="6" height="12"/>
<rect class="c6 s" x="363" y="438" width="7" height="12"/>
<rect class="c1 s" x="370" y="438" width="8" height="12"/>
<rect class="c12 s" x="378" y="438" width="9" height="12"/>
<rect class="c1 s" x="387" y="438" width="5" height="12"/>
<rect class="c1 s" x="392" y="438" width="8" height="12"/>
<rect class="c12 s" x="400" y="438" width="52" height="12"/>
<rect class="o" x="27" y="438" width="425" height="12" rx="2"/>
<path class="tx" d="M30,442H398M95,446H112M137,446H151M179,446H191M209,446H231M292,446H311M327,446H345M425,444H437M429,447H437"/>
</g>
<text class="cap" x="254" y="475" text-anchor="middle">Rattle 2019-feb-02 13:29:28 Alejandro</text>
</svg>
